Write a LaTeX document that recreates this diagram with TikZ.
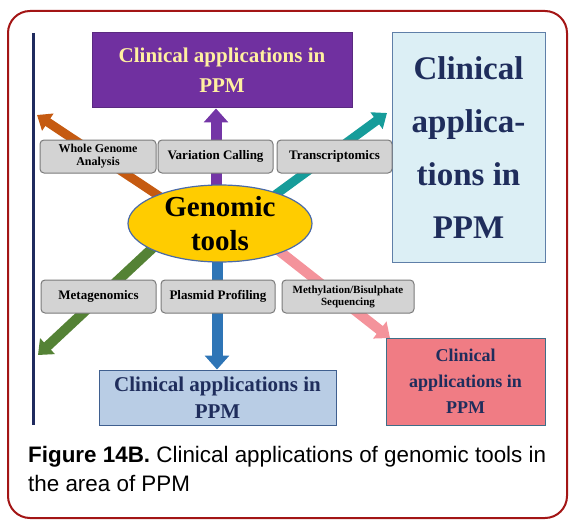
\documentclass[tikz,border=0pt]{standalone}
\usepackage{fontspec}
\setmainfont{Liberation Serif}
\newfontfamily\capfont{Liberation Sans}
\usetikzlibrary{arrows.meta,shapes.geometric,backgrounds}
\definecolor{frame}{HTML}{A31515}
\definecolor{navyline}{HTML}{1F2A5E}
\definecolor{purplebox}{HTML}{7030A0}
\definecolor{purpleborder}{HTML}{5A2A80}
\definecolor{paleyellow}{HTML}{FFF0A0}
\definecolor{rightfill}{HTML}{DCEFF5}
\definecolor{rightborder}{HTML}{5F7FA8}
\definecolor{navytext}{HTML}{1F2D5C}
\definecolor{grayfill}{HTML}{D3D3D3}
\definecolor{grayborder}{HTML}{7A7A7A}
\definecolor{gold}{HTML}{FFCC00}
\definecolor{goldborder}{HTML}{4A6AA8}
\definecolor{bottomfill}{HTML}{B9CDE5}
\definecolor{bottomborder}{HTML}{3F5F8F}
\definecolor{pinkfill}{HTML}{F07C84}
\definecolor{pinkborder}{HTML}{3E6E88}
\definecolor{arrOrange}{HTML}{C55A11}
\definecolor{arrPurple}{HTML}{7436A6}
\definecolor{arrTeal}{HTML}{169C9A}
\definecolor{arrGreen}{HTML}{548235}
\definecolor{arrBlue}{HTML}{2E75B6}
\definecolor{arrPink}{HTML}{F4939B}
\begin{document}
\begin{tikzpicture}[x=1pt,y=-1pt,
  graybox/.style={draw=grayborder, fill=grayfill, rounded corners=4pt, line width=1pt,
    inner sep=0pt, align=center, minimum height=33pt, font=\fontsize{13}{13}\selectfont\bfseries},
  appbox/.style={inner sep=0pt, align=center, line width=1pt},
  fat/.style n args={3}{line width=#1, -{Triangle[width=#2,length=#3]}}]
\useasboundingbox (0,0) rectangle (575,524);
\draw[frame, line width=2pt, rounded corners=22pt] (8,11) rectangle (567,518);
\draw[navyline, line width=3pt] (33,33) -- (33,425);

% application boxes
\node[appbox, fill=purplebox, draw=purpleborder, minimum width=260pt, minimum height=75pt,
  text=paleyellow, font=\fontsize{21}{30}\selectfont\bfseries] (top) at (222,70.5)
  {Clinical applications in\\PPM};
\node[appbox, fill=rightfill, draw=rightborder, minimum width=153pt, minimum height=229pt,
  text=navytext, font=\fontsize{33}{53}\selectfont\bfseries] (right) at (468.5,147.5)
  {Clinical\\applica-\\tions in\\PPM};
\node[appbox, fill=bottomfill, draw=bottomborder, minimum width=237pt, minimum height=55pt,
  text=navytext, font=\fontsize{21}{27}\selectfont\bfseries] (bottom) at (217.5,397.5)
  {Clinical applications in\\PPM};
\node[appbox, fill=pinkfill, draw=pinkborder, minimum width=159pt, minimum height=87pt,
  text=navytext, font=\fontsize{18}{26}\selectfont\bfseries] (pink) at (465.5,381.5)
  {Clinical\\applications in\\PPM};

% tool boxes
\node[graybox, minimum width=116pt, font=\fontsize{12}{13}\selectfont\bfseries] (wga) at (98,156.5) {Whole Genome\\Analysis};
\node[graybox, minimum width=115pt] (vc) at (215.5,156.5) {Variation Calling};
\node[graybox, minimum width=115pt] (tr) at (334.5,156.5) {Transcriptomics};
\node[graybox, minimum width=115pt] (meta) at (98.5,296.5) {Metagenomics};
\node[graybox, minimum width=114pt] (plas) at (218,296.5) {Plasmid Profiling};
\node[graybox, minimum width=132pt, font=\fontsize{11}{12}\selectfont\bfseries] (meth) at (348,296.5) {Methylation/Bisulphate\\Sequencing};

% centre
\node[ellipse, fill=gold, draw=goldborder, line width=1.2pt, minimum width=184pt,
  minimum height=77pt, inner sep=0pt, align=center,
  font=\fontsize{29}{34}\selectfont\bfseries] (tools) at (220,223.5) {Genomic\\tools};

% arrow coordinates
\coordinate (pu) at (216,0);
\coordinate (bl) at (217,0);
\coordinate (oS) at (168,202);  \coordinate (oT) at (37,115);
\coordinate (tS) at (275,195);  \coordinate (tT) at (387,113);
\coordinate (gS) at (158,243);  \coordinate (gT) at (38,355);
\coordinate (kS) at (278,250);  \coordinate (kT) at (390,338);

\begin{scope}[on background layer]
\draw[fat={11pt}{24pt}{14pt}, arrPurple] (pu |- tools.center) -- (pu |- top.south);
\draw[fat={11pt}{24pt}{14pt}, arrBlue] (bl |- tools.center) -- (bl |- bottom.north);
\draw[fat={9pt}{20pt}{13pt}, arrOrange] (oS) -- (oT);
\draw[fat={9pt}{20pt}{13pt}, arrTeal] (tS) -- (tT);
\draw[fat={10pt}{21pt}{13pt}, arrGreen] (gS) -- (gT);
\draw[fat={10pt}{21pt}{13pt}, arrPink] (kS) -- (kT);
\end{scope}

% caption
\node[anchor=base west, inner sep=0pt, font=\capfont\fontsize{22.4}{22.4}\selectfont] (cap1) at (28,462)
  {\bfseries Figure 14B.\mdseries{} Clinical applications of genomic tools in};
\node[anchor=base west, inner sep=0pt, font=\capfont\fontsize{22.4}{22.4}\selectfont] (cap2) at (28,491)
  {the area of PPM};
\end{tikzpicture}
\end{document}
